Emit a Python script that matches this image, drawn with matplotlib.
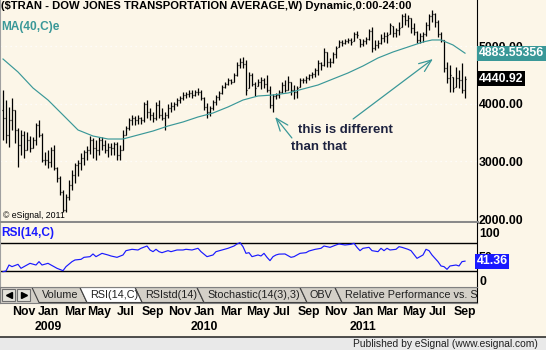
"""$TRAN weekly bar chart with 40-week EMA and RSI(14) pane, eSignal style."""
import matplotlib.pyplot as plt
import matplotlib.transforms as mtransforms
from matplotlib.patches import Polygon, Rectangle
import numpy as np
import pandas as pd

W, H = 546, 350
CREAM = "#fcf6e8"
TEAL = "#3a9898"
TAB_GRAY = "#d4d0c8"

FIRST_WEEK = "2008-09-19"

opens = [3900, 3756, 3460, 3721, 3895, 3547, 3286, 3460, 3199, 3373,
         3234, 3373, 3634, 3460, 3026, 3026, 2991, 3199, 2886, 2713,
         2469, 2156, 2382, 2591, 2765, 2939, 2973, 3060, 3165, 3199,
         3373, 3234, 3199, 3373, 3286, 3199, 3252, 3234, 3304, 3112,
         3199, 3460, 3582, 3721, 3756, 3721, 3756, 3721, 3999, 3860,
         3808, 3756, 3982, 3808, 3756, 3808, 3930, 3965, 3999, 4069,
         4104, 4156, 4173, 4191, 4156, 4208, 4208, 4104, 3947, 3860,
         3930, 4034, 4121, 4191, 4295, 4347, 4417, 4382, 4504, 4678,
         4730, 4695, 4280, 4504, 4347, 4315, 4382, 4417, 4347, 4243,
         3982, 4139, 4156, 4208, 4330, 4243, 4382, 4243, 4208, 4300,
         4417, 4417, 4452, 4504, 4521, 4591, 4712, 4678, 4904, 4730,
         4730, 4869, 4995, 5078, 5060, 5095, 5112, 5100, 5217, 5130,
         5043, 5095, 5130, 5269, 4973, 5025, 5060, 5147, 5182, 5220,
         5356, 5234, 5286, 5340, 5530, 5460, 5495, 5321, 5252, 5112,
         5182, 5217, 5373, 5530, 5565, 5425, 5217, 5112, 4625, 4452,
         4465, 4300, 4452, 4417, 4243]
highs = [4243, 4069, 3947, 4104, 3895, 3582, 3547, 3530, 3512, 3443,
         3426, 3669, 3721, 3495, 3165, 3199, 3252, 3286, 2904, 2747,
         2504, 2434, 2678, 2852, 2973, 3026, 3147, 3199, 3269, 3443,
         3408, 3373, 3426, 3426, 3373, 3321, 3321, 3339, 3339, 3286,
         3547, 3617, 3756, 3808, 3791, 3808, 3773, 4034, 4069, 3930,
         3860, 4034, 4069, 3930, 3860, 3999, 4034, 4034, 4104, 4139,
         4208, 4208, 4243, 4243, 4243, 4278, 4243, 4121, 4017, 3965,
         4069, 4156, 4225, 4330, 4382, 4452, 4434, 4538, 4730, 4799,
         4817, 4765, 4556, 4538, 4382, 4434, 4469, 4452, 4504, 4312,
         4173, 4191, 4243, 4382, 4417, 4486, 4382, 4330, 4312, 4452,
         4452, 4486, 4521, 4556, 4625, 4765, 4730, 4973, 4904, 4799,
         4904, 5008, 5112, 5112, 5130, 5147, 5147, 5252, 5269, 5130,
         5130, 5165, 5304, 5339, 5112, 5112, 5217, 5252, 5252, 5408,
         5356, 5321, 5425, 5565, 5582, 5547, 5495, 5408, 5269, 5234,
         5252, 5425, 5565, 5634, 5582, 5460, 5252, 5112, 4730, 4678,
         4469, 4643, 4591, 4712, 4486]
lows = [3373, 3321, 3252, 3547, 3321, 2904, 3112, 3060, 3199, 3165,
        3234, 3286, 3426, 2991, 2939, 2886, 2904, 2852, 2643, 2417,
        2121, 2121, 2330, 2504, 2626, 2747, 2852, 2939, 3026, 3130,
        3060, 3026, 3112, 3199, 3147, 3078, 3112, 3112, 3026, 3026,
        3199, 3460, 3547, 3634, 3634, 3652, 3652, 3686, 3756, 3721,
        3686, 3721, 3756, 3721, 3547, 3756, 3860, 3895, 3965, 4017,
        4069, 4104, 4121, 4104, 4139, 4156, 4069, 3895, 3756, 3791,
        3895, 3982, 4069, 4173, 4278, 4330, 4347, 4382, 4486, 4625,
        4625, 4156, 4278, 4312, 4139, 4312, 4260, 4278, 4208, 3930,
        3860, 4086, 4104, 4191, 4208, 4243, 4156, 4086, 4104, 4295,
        4365, 4365, 4417, 4452, 4469, 4504, 4591, 4660, 4643, 4643,
        4712, 4799, 4991, 5008, 5043, 5060, 5025, 5095, 5147, 4991,
        5008, 5043, 5112, 4904, 4938, 4973, 5043, 5078, 5060, 5217,
        5165, 5165, 5199, 5339, 5373, 5339, 5234, 5199, 5060, 5060,
        5078, 5182, 5286, 5425, 5339, 5165, 5078, 4556, 4365, 4208,
        4208, 4295, 4278, 4191, 4104]
closes = [3756, 3460, 3721, 3895, 3547, 3286, 3460, 3199, 3373, 3234,
          3373, 3634, 3460, 3026, 3026, 2991, 3199, 2886, 2713, 2469,
          2156, 2382, 2591, 2765, 2939, 2973, 3060, 3165, 3199, 3373,
          3234, 3199, 3373, 3286, 3199, 3252, 3234, 3304, 3112, 3199,
          3460, 3582, 3721, 3756, 3721, 3756, 3721, 3999, 3860, 3808,
          3756, 3982, 3808, 3756, 3808, 3930, 3965, 3999, 4069, 4104,
          4156, 4173, 4191, 4156, 4208, 4208, 4104, 3947, 3860, 3930,
          4034, 4121, 4191, 4295, 4347, 4417, 4382, 4504, 4678, 4730,
          4695, 4243, 4504, 4347, 4278, 4382, 4417, 4347, 4243, 3982,
          4139, 4156, 4208, 4330, 4243, 4382, 4243, 4208, 4278, 4417,
          4417, 4452, 4504, 4521, 4591, 4712, 4678, 4904, 4730, 4730,
          4869, 4973, 5078, 5060, 5095, 5112, 5078, 5217, 5199, 5043,
          5095, 5130, 5269, 4973, 5025, 5060, 5147, 5182, 5199, 5373,
          5234, 5286, 5321, 5530, 5460, 5495, 5321, 5252, 5112, 5182,
          5217, 5373, 5530, 5565, 5425, 5217, 5112, 4625, 4452, 4504,
          4278, 4452, 4417, 4243, 4440.92]

# MA(40,C)e sampled along the curve (bar index, value)
ma_idx = [0, 5, 10, 15, 20, 25, 30, 35, 40, 45, 50, 55, 60, 65, 70, 75, 80,
          85, 90, 95, 100, 105, 110, 115, 120, 125, 130, 135, 140, 143, 146,
          150, 154]
ma_vals = [4782, 4556, 4278, 4069, 3809, 3548, 3443, 3391, 3391, 3461, 3530,
           3617, 3687, 3774, 3843, 3948, 4069, 4139, 4156, 4191, 4261, 4330,
           4435, 4539, 4661, 4800, 4904, 4991, 5078, 5113, 5113, 5026,
           4883.55356]

rsi_idx = [0, 1, 2, 3, 5, 6, 7, 9, 11, 12, 13, 15, 17, 18, 20, 21, 23, 24, 26,
           27, 29, 30, 31, 33, 35, 36, 38, 40, 41, 43, 45, 46, 48, 49, 50, 51,
           52, 53, 55, 56, 58, 60, 61, 63, 65, 66, 68, 70, 71, 73, 75, 77, 78,
           79, 80, 81, 82, 83, 85, 86, 87, 88, 89, 90, 91, 92, 94, 96, 97, 99,
           101, 102, 104, 106, 107, 108, 109, 111, 112, 114, 116, 117, 118,
           119, 120, 122, 123, 125, 126, 127, 128, 129, 131, 132, 133, 135,
           136, 138, 140, 141, 142, 143, 144, 145, 146, 147, 148, 149, 151,
           152, 153, 154]
rsi_vals = [19.4, 20.8, 33.3, 29.9, 34.7, 26.4, 29.9, 36.8, 33.3, 40.3, 33.3,
            36.8, 29.9, 26.4, 21.5, 29.9, 40.3, 43.8, 45.1, 49.3, 50.7, 56.3,
            50.7, 57.6, 54.2, 52.1, 49.3, 54.2, 63.2, 66.0, 64.6, 68.1, 72.9,
            64.6, 61.1, 66.0, 61.1, 59.0, 63.2, 61.1, 64.6, 64.6, 66.0, 64.6,
            68.1, 61.1, 50.7, 54.2, 61.1, 64.6, 68.1, 72.9, 77.1, 79.9, 71.5,
            57.6, 59.0, 50.7, 54.2, 52.1, 57.6, 49.3, 42.4, 50.7, 54.2, 56.0,
            56.3, 49.3, 50.7, 57.6, 59.0, 62.5, 65.9, 68.1, 72.9, 71.5, 70.1,
            75.0, 77.1, 75.0, 76.4, 78.5, 70.1, 63.2, 68.1, 70.1, 63.2, 61.1,
            68.1, 63.2, 68.1, 64.6, 66.0, 71.5, 70.1, 66.0, 63.2, 47.2, 54.2,
            66.0, 63.2, 54.2, 47.2, 40.3, 31.3, 29.9, 24.3, 31.3, 33.3, 31.3,
            40.3, 41.36]
rsi_bands = [80, 20]

price_ticks = [2000, 3000, 4000, 5000]
rsi_ticks = [0, 50, 100]
label_months = [1, 3, 5, 7, 9, 11]
tab_names = ["Volume", "RSI(14,C)", "RSIstd(14)", "Stochastic(14(3),3)",
             "OBV", "Relative Performance vs. S"]
tab_left = [32, 80, 135, 197, 300, 335]

TITLE = "($TRAN - DOW JONES TRANSPORTATION AVERAGE,W) Dynamic,0:00-24:00"


def px_axes(fig, x0, y0, x1, y1):
    return fig.add_axes([x0 / W, 1 - y1 / H, (x1 - x0) / W, (y1 - y0) / H])


def value_box(ax, y, text, fc, x=1.004):
    tr = mtransforms.blended_transform_factory(ax.transAxes, ax.transData)
    ax.text(x, y, text, transform=tr, ha="left", va="center", color="white",
            fontsize=8.8, fontweight="bold", clip_on=False, zorder=10,
            bbox=dict(boxstyle="square,pad=0.12", fc=fc, ec="none"))


def style_panel(ax):
    ax.set_facecolor(CREAM)
    ax.set_xticks([])
    ax.yaxis.tick_right()
    ax.tick_params(axis="y", length=0, pad=1.5, labelsize=8.8)
    for lab in ax.get_yticklabels():
        lab.set_fontweight("bold")
    ax.spines["top"].set_visible(False)
    ax.spines["left"].set_color("#a0a0a0")
    ax.spines["right"].set_color("black")


def main():
    plt.rcParams["font.family"] = ["Liberation Sans", "DejaVu Sans"]
    fig = plt.figure(figsize=(W / 100, H / 100), dpi=100, facecolor=CREAM)

    n = len(closes)
    idx = np.arange(n)
    dates = pd.date_range(FIRST_WEEK, periods=n, freq="W-FRI")
    xlim = (-1, 158)

    # price pane
    ax = px_axes(fig, 0, 0, 477, 222)
    ax.set_xlim(*xlim)
    ax.set_ylim(1948, 5808)
    ax.set_yticks(price_ticks)
    ax.set_yticklabels([f"{v:.2f}" for v in price_ticks])
    style_panel(ax)
    ax.spines["bottom"].set_color("#8a8a8a")
    ax.spines["bottom"].set_linewidth(2.2)
    for v in price_ticks[1:]:
        ax.axhline(v, color="white", lw=0.9, ls=(0, (1, 3)), zorder=0)

    ax.vlines(idx, lows, highs, color="black", lw=0.9)
    ax.hlines(opens, idx - 0.45, idx, color="black", lw=0.9)
    ax.hlines(closes, idx, idx + 0.45, color="black", lw=0.9)
    ax.plot(ma_idx, ma_vals, color=TEAL, lw=0.85)

    value_box(ax, ma_vals[-1], f"{ma_vals[-1]:.5f}", TEAL)
    value_box(ax, closes[-1], f"{closes[-1]:.2f}", "black")

    ax.text(0.002, 0.997, TITLE, transform=ax.transAxes, ha="left", va="top",
            fontsize=8.1, fontweight="bold", color="black")
    ax.text(0.002, 0.905, "MA(40,C)e", transform=ax.transAxes, ha="left",
            va="top", fontsize=8.6, fontweight="bold", color=TEAL)
    ax.text(0.006, 0.03, "\u00a9 eSignal, 2011", transform=ax.transAxes,
            ha="left", va="center", fontsize=6.3, color="black")

    arrow = dict(arrowstyle="->,head_length=0.9,head_width=0.35", color=TEAL,
                 lw=0.9, shrinkA=0, shrinkB=0)
    ax.annotate("", xy=(90.7, 3774), xytext=(96.3, 3409), arrowprops=arrow)
    ax.annotate("", xy=(143.3, 4782), xytext=(116.7, 3739), arrowprops=arrow)
    ax.text(98.3, 3548, "this is different", fontsize=9.5, fontweight="bold",
            color="#1e2340", ha="left", va="center")
    ax.text(96.0, 3252, "than that", fontsize=9.5, fontweight="bold",
            color="#1e2340", ha="left", va="center")

    # RSI pane
    rx = px_axes(fig, 0, 223, 477, 287)
    rx.set_xlim(*xlim)
    rx.set_ylim(-12.5, 120.8)
    rx.set_yticks(rsi_ticks)
    rx.set_yticklabels([str(v) for v in rsi_ticks])
    style_panel(rx)
    rx.spines["bottom"].set_visible(False)
    for b in rsi_bands:
        rx.axhline(b, color="black", lw=1.0)
    rx.plot(rsi_idx, rsi_vals, color="#1a1aff", lw=0.85)
    value_box(rx, rsi_vals[-1], f"{rsi_vals[-1]:.2f}", "#1a1aff", x=0.999)
    rx.text(0.003, 0.84, "RSI(14,C)", transform=rx.transAxes, ha="left",
            va="center", fontsize=8.6, fontweight="bold", color="#1a1aff")

    # study tabs
    tx = px_axes(fig, 0, 287, 477, 303)
    tx.set_xlim(0, 477)
    tx.set_ylim(16, 0)
    tx.set_facecolor(TAB_GRAY)
    tx.set_xticks([])
    tx.set_yticks([])
    for s in ("left", "top", "bottom"):
        tx.spines[s].set_color("#808080")
    tx.spines["right"].set_color("black")
    for bx, mk in ((2, "<"), (17, ">")):
        tx.add_patch(Rectangle((bx, 2), 13, 12, fc="#e4e2da", ec="#707070",
                               lw=0.8))
        tx.plot(bx + 6.5, 8, marker=mk, color="black", ms=4.5)
    edges = tab_left + [490]
    order = [i for i in range(len(tab_names)) if i != 1] + [1]
    for i in order:
        x0, x1 = edges[i], edges[i + 1]
        fc = "white" if i == 1 else TAB_GRAY
        tx.add_patch(Polygon([(x0, 0.5), (x1, 0.5), (x1 + 7, 15.5),
                              (x0 + 7, 15.5)], closed=True, fc=fc,
                             ec="#404040", lw=0.8))
        tx.text(x0 + 10, 8.2, tab_names[i], ha="left", va="center",
                fontsize=7.8, color="#202020", clip_on=True)

    # date axis
    dx = px_axes(fig, 0, 303, 477, 336)
    dx.set_xlim(*xlim)
    dx.set_ylim(0, 1)
    dx.axis("off")
    for i in range(1, n):
        d = dates[i]
        if d.month != dates[i - 1].month and d.month in label_months:
            dx.text(i, 0.73, d.strftime("%b"), ha="center", va="center",
                    fontsize=8.8, fontweight="bold", clip_on=False)
            if d.month == 1:
                dx.text(i, 0.27, str(d.year), ha="center", va="center",
                        fontsize=8.8, fontweight="bold", clip_on=False)

    # status bar
    sx = px_axes(fig, 0, 337, 546, 350)
    sx.set_facecolor("#e9e9e9")
    sx.set_xticks([])
    sx.set_yticks([])
    for s in ("left", "right", "bottom"):
        sx.spines[s].set_visible(False)
    sx.spines["top"].set_color("#303030")
    sx.spines["top"].set_linewidth(1.2)
    sx.text(0.985, 0.45, "Published by eSignal (www.esignal.com)",
            transform=sx.transAxes, ha="right", va="center", fontsize=7.4,
            color="#202020")

    fig.savefig("out.png", dpi=100, facecolor=CREAM)
    plt.close(fig)


if __name__ == "__main__":
    main()
